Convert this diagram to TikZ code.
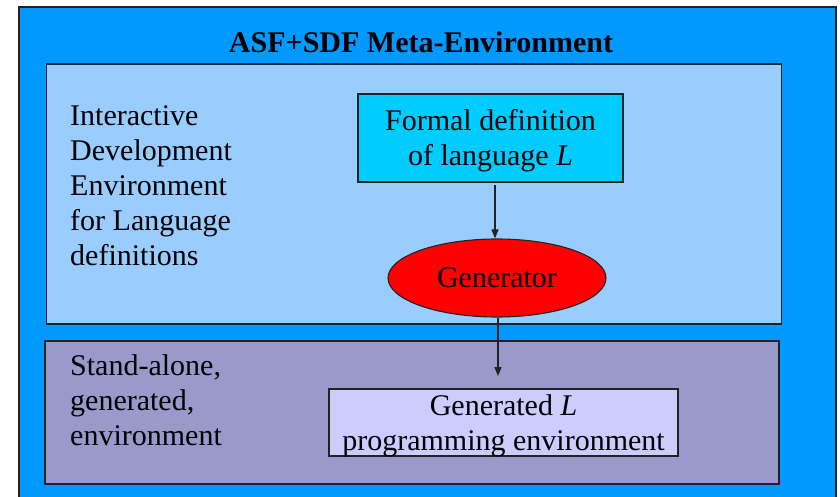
\documentclass[tikz,border=0pt]{standalone}
\usepackage{fontspec}
\setmainfont{Liberation Serif}
\usetikzlibrary{shapes.geometric,arrows.meta}
\definecolor{outerblue}{HTML}{0099FF}
\definecolor{ideblue}{HTML}{99CCFF}
\definecolor{defcyan}{HTML}{00CCFF}
\definecolor{genred}{HTML}{FF0000}
\definecolor{standpurple}{HTML}{9999CC}
\definecolor{lilac}{HTML}{CCCCFF}
\definecolor{edge}{HTML}{222222}
\begin{document}
\begin{tikzpicture}[x=1pt,y=-1pt,
  panel/.style={draw=edge,line width=1.1pt,rectangle,inner sep=0pt},
  txt/.style={font=\fontsize{30pt}{35pt}\selectfont,inner sep=0pt},
  flow/.style={draw=edge,line width=1.3pt,-{Triangle[length=9pt,width=7pt]}}]
\useasboundingbox[fill=white] (0,0) rectangle (840,497);
\begin{scope}
\clip (0,0) rectangle (840,497);
\node[panel,fill=outerblue,minimum width=817pt,minimum height=520pt] (outer) at (427.5,267) {};
\end{scope}
\node[txt,font=\fontsize{30pt}{35pt}\selectfont\bfseries,anchor=base] (title) at (421,53) {ASF+SDF Meta-Environment};
\node[panel,fill=ideblue,minimum width=735pt,minimum height=260pt] (ide) at (414,194) {};
\node[panel,fill=standpurple,minimum width=734pt,minimum height=143pt] (stand) at (412,412.5) {};
\node[txt,align=left,anchor=north west] (idelabel) at (70,105) {Interactive\\Development\\Environment\\for Language\\definitions};
\node[txt,align=left,anchor=north west] (standlabel) at (70,354) {Stand-alone,\\generated,\\environment};
\node[panel,fill=defcyan,minimum width=265pt,minimum height=88pt] (def) at (490.5,138) {};
\node[txt,align=center] (deftext) at (490.5,141) {Formal definition\\of language \textit{L}};
\node[ellipse,draw=edge,line width=1.1pt,fill=genred,minimum width=218pt,minimum height=78pt,txt] (gen) at (497,278) {Generator};
\node[panel,fill=lilac,minimum width=349pt,minimum height=67pt] (out) at (503.5,422.5) {};
\node[txt,align=center] (outtext) at (503.5,425.5) {Generated \textit{L}\\programming environment};
\coordinate (a1s) at (495,185);
\coordinate (a2e) at (498,376);
\draw[flow] (a1s) -- (gen.north -| a1s);
\draw[flow] (gen.south -| a2e) -- (a2e);
\end{tikzpicture}
\end{document}
